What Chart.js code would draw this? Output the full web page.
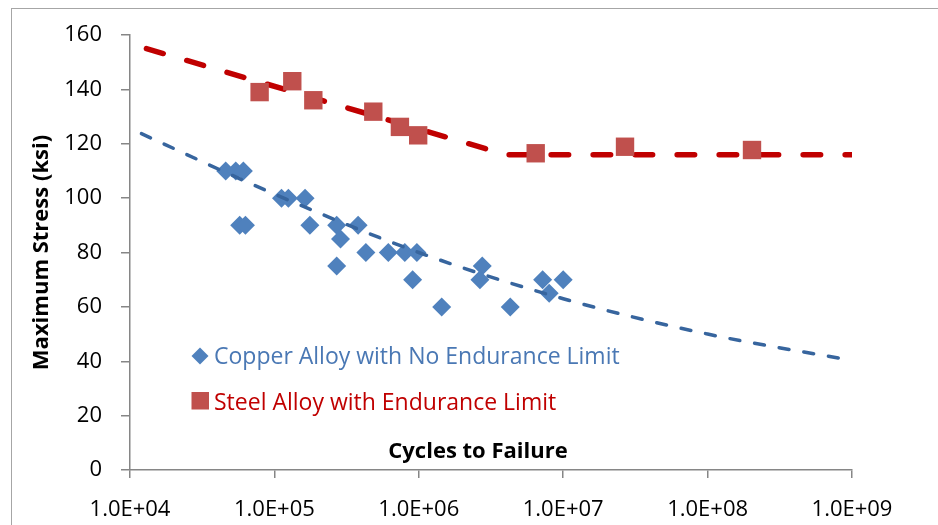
<!DOCTYPE html>
<html>
<head>
<meta charset="utf-8">
<script src="https://cdn.jsdelivr.net/npm/chart.js@4.4.1/dist/chart.umd.min.js"></script>
<style>
  html, body { margin: 0; padding: 0; background: #fff; overflow: hidden; }
  #wrap { position: relative; width: 938px; height: 525px; }
  #frame { position: absolute; left: 11px; top: 8px; width: 1000px; height: 600px;
           border-left: 1.5px solid #a6a6a6; border-top: 1.5px solid #a6a6a6; }
  canvas { position: absolute; left: 0; top: 0; }
</style>
</head>
<body>
<div id="wrap">
  <div id="frame"></div>
  <canvas id="snChart" width="938" height="525"></canvas>
</div>
<script>
// S-N data
const copperCycles = [4.6e4, 5.4e4, 6.1e4, 5.75e4, 6.3e4, 1.12e5, 1.25e5, 1.63e5, 1.76e5, 2.7e5,
                      2.87e5, 3.8e5, 2.7e5, 4.3e5, 6.15e5, 8.0e5, 9.7e5, 9.06e5, 1.44e6, 2.75e6,
                      2.65e6, 4.3e6, 7.2e6, 8.0e6, 1.0e7];
const copperStress = [110, 110, 110, 90, 90, 100, 100, 100, 90, 90,
                      85, 90, 75, 80, 80, 80, 80, 70, 60, 75,
                      70, 60, 70, 65, 70];

const steelCycles = [7.9e4, 1.33e5, 1.86e5, 4.84e5, 7.4e5, 9.9e5, 6.45e6, 2.68e7, 2.03e8];
const steelStress = [139, 143, 136, 131.8, 126.2, 123.1, 116.5, 118.9, 117.7];

// trend lines
const copperTrendCycles = [1.2e4, 1e5, 1e6, 1e7, 1e8, 1e9];
const copperTrendStress = [123.7, 101.5, 80, 63, 50, 40.3];
const steelTrendCycles = [1.3e4, 4.0e6, 1e9];
const steelTrendStress = [155, 116, 116];

const xTickValues = [1e4, 1e5, 1e6, 1e7, 1e8, 1e9];
const xTickLabels = ['1.0E+04', '1.0E+05', '1.0E+06', '1.0E+07', '1.0E+08', '1.0E+09'];

const seriesNames = ['Copper Alloy with No Endurance Limit', 'Steel Alloy with Endurance Limit'];
const xTitle = 'Cycles to Failure';
const yTitle = 'Maximum Stress (ksi)';

function toPoints(xs, ys) {
    return xs.map((x, i) => ({ x: x, y: ys[i] }));
}

Chart.defaults.font.family = "'Open Sans', sans-serif";
Chart.defaults.color = '#000';

// legend + x title drawn inside the plot area like the Excel original
const insideLabels = {
    id: 'insideLabels',
    afterDatasetsDraw(chart) {
        const ctx = chart.ctx;
        ctx.save();
        ctx.font = 'bold 22px "Open Sans"';
        ctx.fillStyle = '#000';
        ctx.textAlign = 'center';
        ctx.textBaseline = 'middle';
        ctx.fillText(xTitle, 478, 452);

        // copper entry
        ctx.fillStyle = '#4f81bd';
        ctx.beginPath();
        ctx.moveTo(200, 356 - 8.5);
        ctx.lineTo(200 + 8.5, 356);
        ctx.lineTo(200, 356 + 8.5);
        ctx.lineTo(200 - 8.5, 356);
        ctx.closePath();
        ctx.fill();
        ctx.font = '23px "Open Sans"';
        ctx.textAlign = 'left';
        ctx.fillStyle = '#4a78b4';
        ctx.fillText(seriesNames[0], 214, 357);

        // steel entry
        ctx.fillStyle = '#c0504d';
        ctx.fillRect(191.5, 392, 17.5, 17.5);
        ctx.fillStyle = '#c00000';
        ctx.fillText(seriesNames[1], 214, 403);
        ctx.restore();
    }
};

const ctx = document.getElementById('snChart').getContext('2d');
new Chart(ctx, {
    type: 'scatter',
    data: {
        datasets: [
            {
                label: seriesNames[0],
                data: toPoints(copperCycles, copperStress),
                pointStyle: 'rectRot',
                pointRadius: 9.5,
                backgroundColor: '#4f81bd',
                borderWidth: 0,
                order: 2
            },
            {
                label: seriesNames[1],
                data: toPoints(steelCycles, steelStress),
                pointStyle: 'rect',
                pointRadius: 13,
                backgroundColor: '#c0504d',
                borderWidth: 0,
                order: 3
            },
            {
                label: 'copper trend',
                type: 'line',
                data: toPoints(copperTrendCycles, copperTrendStress),
                borderColor: '#37659e',
                borderWidth: 3.5,
                borderDash: [10, 15],
                borderCapStyle: 'round',
                cubicInterpolationMode: 'monotone',
                pointRadius: 0,
                fill: false,
                order: 1
            },
            {
                label: 'steel trend',
                type: 'line',
                data: toPoints(steelTrendCycles, steelTrendStress),
                borderColor: '#c00000',
                borderWidth: 5.5,
                borderDash: [17.5, 24.5],
                borderCapStyle: 'round',
                pointRadius: 0,
                fill: false,
                order: 4
            }
        ]
    },
    options: {
        responsive: false,
        animation: false,
        layout: { padding: { top: 35, right: 86, left: 0, bottom: 0 } },
        plugins: {
            legend: { display: false },
            tooltip: { enabled: false }
        },
        scales: {
            x: {
                type: 'logarithmic',
                min: 1e4,
                max: 1e9,
                afterBuildTicks: function (axis) {
                    axis.ticks = xTickValues.map(v => ({ value: v }));
                },
                afterFit: function (scale) { scale.height = 55; },
                ticks: {
                    autoSkip: false,
                    maxRotation: 0,
                    padding: 19,
                    font: { size: 22 },
                    callback: function (value, index) { return xTickLabels[index]; }
                },
                grid: { drawOnChartArea: false, tickLength: 8, color: '#868686', lineWidth: 1.5 },
                border: { color: '#868686', width: 1.5 }
            },
            y: {
                min: 0,
                max: 160,
                afterFit: function (scale) { scale.width = 130; },
                ticks: { stepSize: 20, padding: 19, font: { size: 22 } },
                grid: { drawOnChartArea: false, tickLength: 9, color: '#868686', lineWidth: 1.5 },
                border: { color: '#868686', width: 1.5 },
                title: {
                    display: true,
                    text: yTitle,
                    font: { size: 22, weight: 'bold' },
                    padding: { top: 29, bottom: 0 }
                }
            }
        }
    },
    plugins: [insideLabels]
});
</script>
</body>
</html>
